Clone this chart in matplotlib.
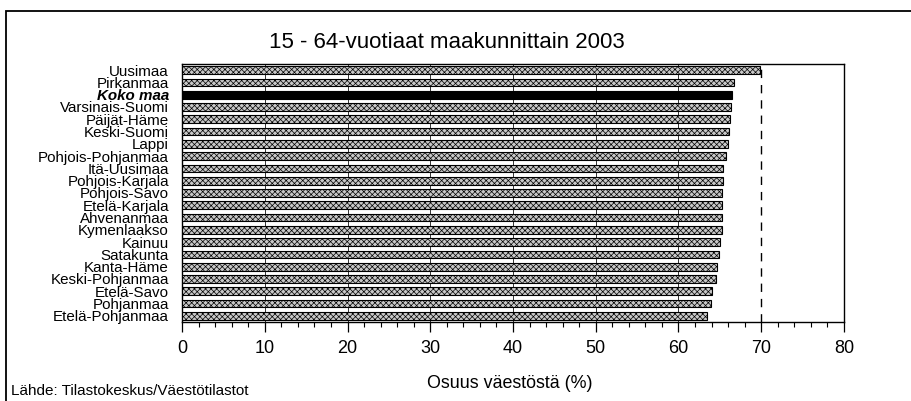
import matplotlib
matplotlib.use("Agg")
import matplotlib.pyplot as plt
from matplotlib.patches import Rectangle
from matplotlib.ticker import MultipleLocator

regions = ["Uusimaa", "Pirkanmaa", "Koko maa", "Varsinais-Suomi", "Päijät-Häme",
           "Keski-Suomi", "Lappi", "Pohjois-Pohjanmaa", "Itä-Uusimaa", "Pohjois-Karjala",
           "Pohjois-Savo", "Etelä-Karjala", "Ahvenanmaa", "Kymenlaakso", "Kainuu",
           "Satakunta", "Kanta-Häme", "Keski-Pohjanmaa", "Etelä-Savo", "Pohjanmaa",
           "Etelä-Pohjanmaa"]
shares = [69.8, 66.7, 66.5, 66.4, 66.2, 66.1, 66.0, 65.7, 65.4, 65.4,
          65.3, 65.3, 65.3, 65.3, 65.0, 64.9, 64.7, 64.5, 64.0, 63.9, 63.5]
highlight = "Koko maa"
reference_value = 70
xticks = [0, 10, 20, 30, 40, 50, 60, 70, 80]

plt.rcParams['font.family'] = ['Liberation Sans', 'DejaVu Sans']
plt.rcParams['hatch.color'] = '#6a6a6a'
plt.rcParams['hatch.linewidth'] = 0.5

fig = plt.figure(figsize=(9.12, 4.01), dpi=100)
ax = fig.add_axes([182/912, 1-322/401, (844-182)/912, (322-64)/401])

ypos = list(range(len(regions)))
for y, name, v in zip(ypos, regions, shares):
    if name == highlight:
        ax.barh(y, v, height=0.68, color='black', edgecolor='black', linewidth=0.8, zorder=3)
    else:
        ax.barh(y, v, height=0.62, color='#c8c8c8', edgecolor='black', linewidth=0.8,
                hatch='xxxxxx', zorder=3)

ax.set_xlim(0, 80)
ax.set_ylim(len(regions) - 0.5, -0.5)
ax.set_yticks(ypos)
ax.set_yticklabels(regions, fontsize=10.9)
for lbl in ax.get_yticklabels():
    if lbl.get_text() == highlight:
        lbl.set_fontweight('bold')
        lbl.set_fontstyle('italic')
ax.tick_params(axis='y', length=0, pad=9.5)

ax.set_xticks(xticks)
ax.set_xticklabels([str(t) for t in xticks], fontsize=13)
ax.xaxis.set_minor_locator(MultipleLocator(2))
ax.tick_params(axis='x', which='major', direction='out', length=7, width=0.9, pad=6)
ax.tick_params(axis='x', which='minor', direction='out', length=3.6, width=0.8)

for g in xticks[1:-2]:
    ax.axvline(g, color='#333333', linewidth=0.7, zorder=1)
ax.axvline(reference_value, color='black', linewidth=1.0, linestyle=(0, (6, 5)), zorder=2)

for s in ax.spines.values():
    s.set_linewidth(1.0)
    s.set_color('black')

fig.text(447/912, 1-42/401, "15 - 64-vuotiaat maakunnittain 2003", fontsize=16,
         ha='center', va='center')
fig.text(510/912, 1-383/401, "Osuus väestöstä (%)", fontsize=12.9, ha='center', va='center')
fig.text(11/912, 1-391/401, "Lähde: Tilastokeskus/Väestötilastot", fontsize=11,
         ha='left', va='center')

frame = Rectangle((6/912, -0.05), 1.2, 1-11/401 + 0.05, transform=fig.transFigure,
                  fill=False, edgecolor='black', linewidth=1.3, clip_on=False)
fig.patches.append(frame)

fig.savefig("out.png", dpi=100)
